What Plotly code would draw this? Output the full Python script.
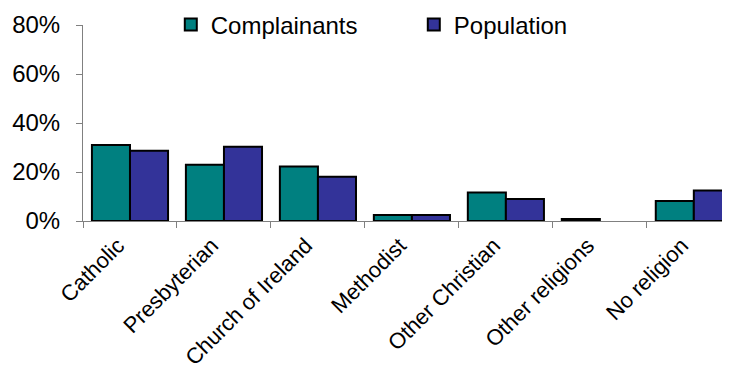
import plotly.graph_objects as go

# Religion breakdown: complainants vs population (%)
categories = ["Catholic", "Presbyterian", "Church of Ireland", "Methodist",
              "Other Christian", "Other religions", "No religion"]
complainants = [31.0, 23.0, 22.2, 2.4, 11.6, 0.8, 8.2]
population = [28.7, 30.3, 18.1, 2.4, 9.0, 0.0, 12.4]
y_ticks = [0, 20, 40, 60, 80]

_FONT = "Liberation Sans, Arial, sans-serif"


def _outline(values):
    # no outline on empty bars so they don't leave a stray line on the axis
    return [2 if v > 0 else 0 for v in values]


fig = go.Figure()
fig.add_trace(go.Bar(
    name="Complainants", x=categories, y=complainants,
    marker=dict(color="#008080", line=dict(color="black", width=_outline(complainants))),
))
fig.add_trace(go.Bar(
    name="Population", x=categories, y=population,
    marker=dict(color="#333399", line=dict(color="black", width=_outline(population))),
))

fig.update_layout(
    width=730, height=370,
    paper_bgcolor="white", plot_bgcolor="white",
    font=dict(family=_FONT, color="black", size=20),
    # page body adds an 8px offset, so margins are trimmed by that much
    margin=dict(l=75, r=0, t=17, b=157, autoexpand=False),
    barmode="group", bargap=0.19, bargroupgap=0,
    showlegend=True,
    legend=dict(
        orientation="h", xref="container", yref="container",
        x=0.223, xanchor="left", y=0.954, yanchor="middle",
        bgcolor="rgba(0,0,0,0)", font=dict(size=24),
        entrywidth=198, entrywidthmode="pixels",
    ),
    xaxis=dict(
        range=[-0.5, 6.47], tickangle=-45, tickfont=dict(size=22),
        ticklabelshift=-12, ticklabelstandoff=2,
        showline=True, linecolor="#808080", linewidth=1,
        ticks="outside", tickson="boundaries", ticklen=6, tickcolor="#808080",
        showgrid=False, fixedrange=True, automargin=False,
    ),
    yaxis=dict(
        range=[0, 80], tickvals=y_ticks, ticktext=[f"{v}%" for v in y_ticks],
        tickfont=dict(size=24),
        showline=True, linecolor="#808080", linewidth=1,
        ticks="outside", ticklen=6, tickcolor="#808080", ticklabelstandoff=11,
        showgrid=False, zeroline=False, fixedrange=True, automargin=False,
    ),
)

fig.write_html("out.html", config={"displayModeBar": False})
